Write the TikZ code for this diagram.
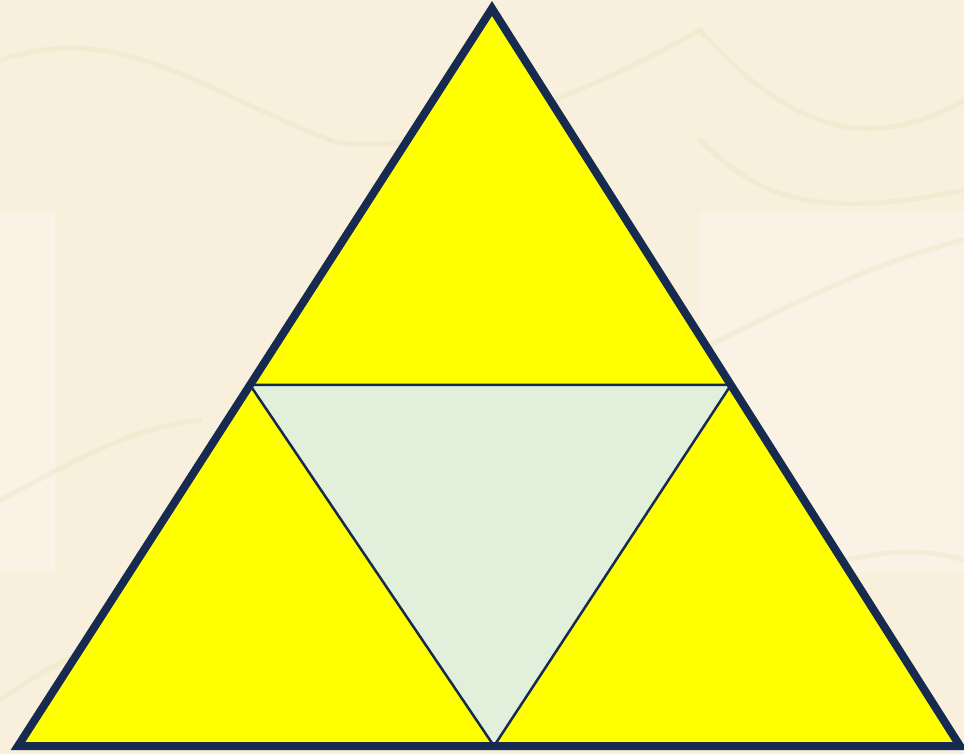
\documentclass[tikz,border=0pt]{standalone}
\usetikzlibrary{calc}
\definecolor{bgbeige}{HTML}{F8F0DC}
\definecolor{bglight}{HTML}{FAF3E5}
\definecolor{texline}{HTML}{EFE4C8}
\definecolor{navy}{HTML}{172A50}
\definecolor{tyellow}{HTML}{FFFF00}
\definecolor{tgreen}{HTML}{E2EFDA}
\tikzset{
  outerline/.style={draw=navy,line width=8pt,line join=miter},
  innerline/.style={draw=navy,line width=2.5pt,line join=miter},
  yellowpart/.style={fill=tyellow},
  greenpart/.style={fill=tgreen},
  texture/.style={draw=texline,line width=5pt,line cap=round,opacity=0.45}
}
\begin{document}
\begin{tikzpicture}[x=1pt,y=-1pt]
\useasboundingbox (0,0) rectangle (964,754);
\fill[bgbeige] (0,0) rectangle (964,754);
\fill[bglight] (0,212) rectangle (55,572);
\fill[bglight] (700,212) rectangle (964,572);
% faint texture strokes
\draw[texture] (0,60) .. controls (120,20) and (200,90) .. (330,140);
\draw[texture] (330,140) .. controls (400,160) and (560,110) .. (700,30);
\draw[texture] (700,30) .. controls (780,120) and (860,160) .. (964,100);
\draw[texture] (0,500) .. controls (60,470) and (120,430) .. (200,420);
\draw[texture] (700,350) .. controls (800,300) and (880,260) .. (964,240);
\draw[texture] (740,600) .. controls (820,560) and (900,540) .. (964,560);
\draw[texture] (0,700) .. controls (30,680) and (60,660) .. (90,650);
\draw[texture] (700,140) .. controls (760,200) and (820,220) .. (964,190);
% vertices
\coordinate (A) at (492,8.5);
\coordinate (B) at (18,746);
\coordinate (C) at (960,746);
\coordinate (L) at ($(A)!0.5105!(B)$);
\coordinate (R) at ($(A)!0.5105!(C)$);
\coordinate (M) at (494,746);
% parts
\fill[yellowpart] (A) -- (L) -- (R) -- cycle;
\fill[yellowpart] (L) -- (B) -- (M) -- cycle;
\fill[yellowpart] (R) -- (M) -- (C) -- cycle;
\fill[greenpart] (L) -- (R) -- (M) -- cycle;
\draw[innerline] (L) -- (R) -- (M) -- cycle;
\draw[outerline] (A) -- (B) -- (C) -- cycle;
\end{tikzpicture}
\end{document}
